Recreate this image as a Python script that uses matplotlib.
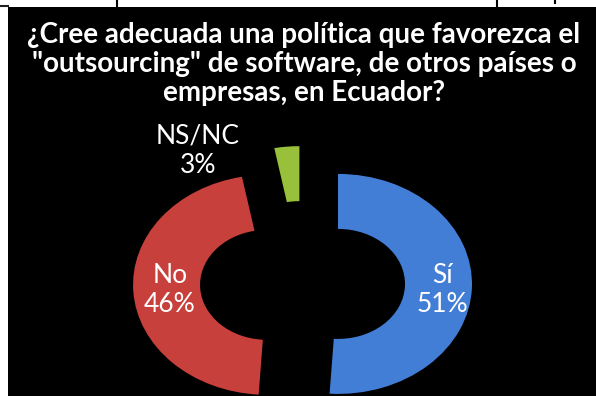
import matplotlib
matplotlib.use("Agg")
import matplotlib.pyplot as plt
from matplotlib.lines import Line2D

# Data
categories = ["Sí", "No", "NS/NC"]
values = [51, 46, 3]
pct_labels = ["51%", "46%", "3%"]
colors = ["#427ed6", "#c8403c", "#98c03a"]
explode = [0.265, 0.265, 0.245]
title = '¿Cree adecuada una política que favorezca el\n"outsourcing" de software, de otros países o\nempresas, en Ecuador?'

W, H = 596, 396
fig = plt.figure(figsize=(W / 100, H / 100), dpi=100, facecolor="white")

# black panel (scanned slide)
bg = fig.add_axes([8 / W, 0, (W - 8) / W, (H - 7) / H])
bg.set_facecolor("black")
bg.set_xticks([]); bg.set_yticks([])
for s in bg.spines.values():
    s.set_visible(False)

# table border remnants at the top
fig.add_artist(Line2D([0, 8 / W], [1 - 5.5 / H, 1 - 5.5 / H], color="#222222", lw=1.5, transform=fig.transFigure))
for xp, h in [(117, 7), (497, 7), (555, 3)]:
    fig.add_artist(Line2D([xp / W, xp / W], [1, 1 - h / H], color="black", lw=1.5, transform=fig.transFigure))

# pie axes covering the whole figure (elliptical: x unit = sx px, y unit = sy px)
cx, cy = 302.5, 283
sx, sy = 134, 110
ax = fig.add_axes([0, 0, 1, 1])
ax.set_facecolor("none")
wedges, _ = ax.pie(values, colors=colors, explode=explode, startangle=90,
                   counterclock=False, radius=1.0,
                   wedgeprops=dict(width=0.5, edgecolor="none"))
ax.set_aspect("auto")
ax.set_xlim(-cx / sx, (W - cx) / sx)
ax.set_ylim(-(H - cy) / sy, cy / sy)
ax.axis("off")

def px(x, y):
    return ((x - cx) / sx, (cy - y) / sy)

label_pos = [(442, 290), (170, 290), (198, 151)]
for cat, pl, (lx, ly) in zip(categories, pct_labels, label_pos):
    ax.text(*px(lx, ly), f"{cat}\n{pl}", color="white", ha="center", va="center",
            fontsize=19, family="Lato", linespacing=1.22)

fig.text(304 / W, 1 - 64 / H, title, color="white", ha="center", va="center",
         fontsize=20, fontweight="bold", family="Lato", linespacing=1.16)

fig.savefig("out.png", dpi=100, facecolor="white")
